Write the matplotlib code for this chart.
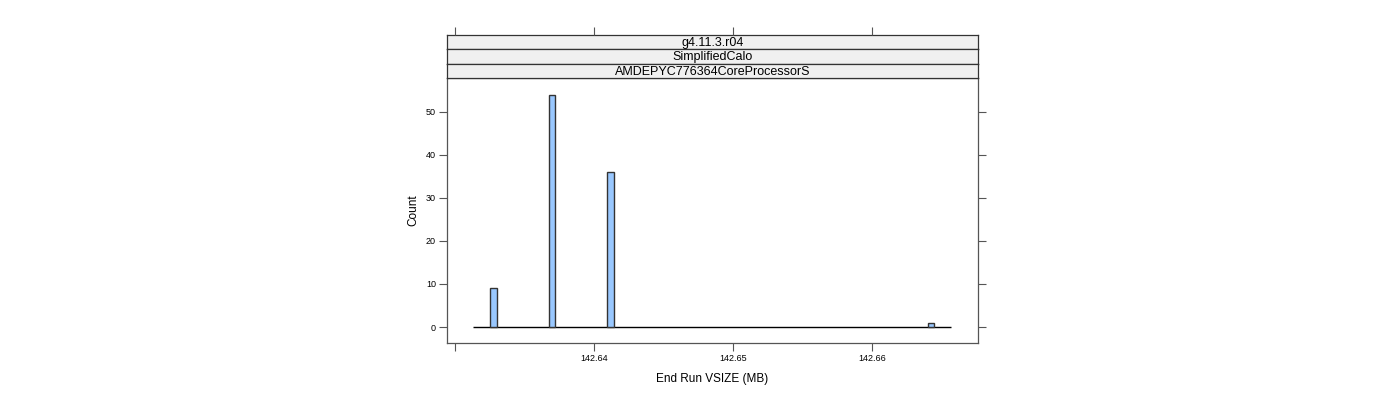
import matplotlib
matplotlib.use("Agg")
import matplotlib.pyplot as plt

# Data
vsize_values = [142.63277, 142.63699, 142.64119, 142.66424]
counts = [9, 54, 36, 1]
bin_width = 0.00046
range_lo, range_hi = 142.63130, 142.66567
strip_labels = ["g4.11.3.r04", "SimplifiedCalo", "AMDEPYC776364CoreProcessorS"]
x_ticks = [142.63, 142.64, 142.65, 142.66]
x_tick_labels = ["", "142.64", "142.65", "142.66"]
y_ticks = [0, 10, 20, 30, 40, 50]

plt.rcParams['font.family'] = ['Liberation Sans', 'DejaVu Sans']

W, H = 1400, 400
fig = plt.figure(figsize=(14, 4), dpi=100)

L, R, B, T = 447, 978, 343, 78
ax = fig.add_axes([L / W, 1 - B / H, (R - L) / W, (B - T) / H])
ax.set_xlim(142.629424, 142.667626)
ax.set_ylim(-3.72, 57.9)

ax.hlines(0, range_lo, range_hi, color='black', lw=1.0, zorder=2)
ax.bar(vsize_values, counts, width=bin_width, color='#99c8ff',
       edgecolor='#333333', linewidth=1.0, zorder=3)

for s in ax.spines.values():
    s.set_color('#555555')
    s.set_linewidth(0.9)

ax.set_xticks(x_ticks)
ax.set_xticklabels(x_tick_labels, fontsize=6.5)
ax.set_yticks(y_ticks)
ax.set_yticklabels([str(v) for v in y_ticks], fontsize=6.5)
ax.tick_params(axis='both', direction='out', length=6, width=0.8,
               color='#555555', pad=2)
ax.tick_params(axis='y', right=True, labelright=False)
ax.set_xlabel("End Run VSIZE (MB)", fontsize=8.5, labelpad=7)
ax.set_ylabel("Count", fontsize=8.5, labelpad=5)

# strips
strip_h = 14.4
for i, lab in enumerate(strip_labels):
    top = 35 + i * strip_h
    sax = fig.add_axes([L / W, 1 - (top + strip_h) / H, (R - L) / W, strip_h / H])
    sax.set_facecolor('#f0f0f0')
    sax.set_xticks([])
    sax.set_yticks([])
    for s in sax.spines.values():
        s.set_color('#333333')
        s.set_linewidth(0.9)
    fig.text((L + R) / 2 / W, 1 - (top + strip_h * 0.56) / H, lab,
             ha='center', va='center', fontsize=9, zorder=10)

# top ticks above strips
tax = fig.add_axes([L / W, 1 - 35 / H, (R - L) / W, 0.0001])
tax.set_xlim(ax.get_xlim())
tax.set_yticks([])
for s in tax.spines.values():
    s.set_visible(False)
tax.set_xticks(x_ticks)
tax.tick_params(axis='x', bottom=False, top=True, labeltop=False,
                labelbottom=False, direction='out', length=6, width=0.8,
                color='#555555')
tax.patch.set_visible(False)

fig.savefig("out.png", dpi=100)
